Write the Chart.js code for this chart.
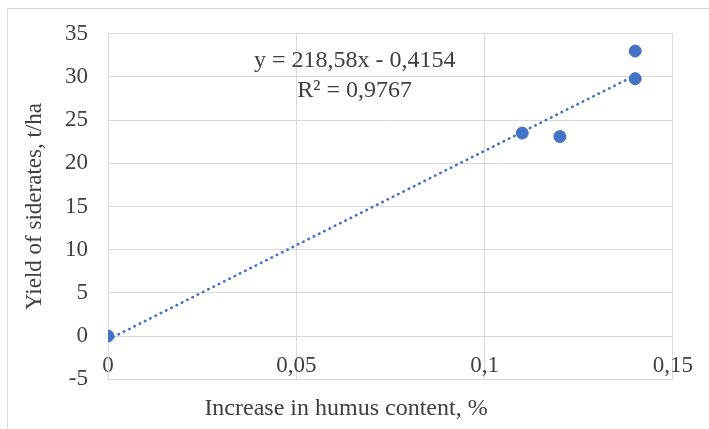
<!DOCTYPE html>
<html>
<head>
<meta charset="utf-8">
<script src="https://cdn.jsdelivr.net/npm/chart.js@4"></script>
<style>
  html, body { margin: 0; padding: 0; background: #fff; }
  #wrap { width: 709px; height: 429px; position: relative; }
</style>
</head>
<body>
<div id="wrap"><canvas id="chart" width="709" height="429"></canvas></div>
<script>
// data
let humusIncrease = [0, 0.11, 0.12, 0.14, 0.14];
let yieldValues   = [0, 23.5, 23.1, 33, 29.8];
// trendline as printed on the chart
let trendSlope     = 218.58;
let trendIntercept = -0.4154;
let equationLines  = ['y = 218,58x - 0,4154', 'R² = 0,9767'];

let blue = '#4472C4';
let gridColor = '#d9d9d9';
let textColor = '#404040';
let serif = "'Liberation Serif', 'Times New Roman', serif";

let xMin = Math.min.apply(null, humusIncrease);
let xMax = Math.max.apply(null, humusIncrease);
let trendPoints = [
  {x: xMin, y: trendSlope * xMin + trendIntercept},
  {x: xMax, y: trendSlope * xMax + trendIntercept}
];

let scatterPoints = humusIncrease.map((x, i) => ({x: x, y: yieldValues[i]}));

// outer frame + equation label
const extras = {
  id: 'extras',
  beforeDraw(chart) {
    const c = chart.ctx;
    c.save();
    c.fillStyle = '#fff';
    c.fillRect(0, 0, chart.width, chart.height);
    c.strokeStyle = gridColor;
    c.lineWidth = 1;
    c.strokeRect(7.5, 8.5, 740, 460);
    c.restore();
  },
  afterDraw(chart) {
    const c = chart.ctx;
    const xs = chart.scales.x, ys = chart.scales.y;
    c.save();
    c.font = '24px ' + serif;
    c.fillStyle = textColor;
    c.textAlign = 'center';
    c.textBaseline = 'middle';
    const cx = xs.getPixelForValue(0.0655);
    c.fillText(equationLines[0], cx, ys.getPixelForValue(31.9));
    c.fillText(equationLines[1], cx, ys.getPixelForValue(28.4));
    c.restore();
  }
};

const ctx = document.getElementById('chart').getContext('2d');
new Chart(ctx, {
  type: 'scatter',
  data: {
    datasets: [
      {
        label: 'Trend',
        type: 'line',
        data: trendPoints,
        borderColor: blue,
        borderWidth: 2.6,
        borderDash: [0.5, 5.4],
        borderCapStyle: 'round',
        pointRadius: 0,
        fill: false,
        order: 0
      },
      {
        label: 'Yield',
        data: scatterPoints,
        backgroundColor: blue,
        borderColor: blue,
        pointRadius: 6,
        order: 1
      }
    ]
  },
  options: {
    responsive: false,
    animation: false,
    layout: { padding: { left: 16, right: 33, top: 29, bottom: 0 } },
    plugins: {
      legend: { display: false },
      tooltip: { enabled: false },
      title: {
        display: true,
        position: 'bottom',
        text: 'Increase in humus content, %',
        color: textColor,
        font: { family: serif, size: 24, weight: 'normal' },
        padding: { top: 15, bottom: 6 }
      }
    },
    scales: {
      x: {
        type: 'linear',
        position: { y: 0 },
        min: 0,
        max: 0.15,
        afterFit(scale) { scale.height = 0; },
        ticks: {
          stepSize: 0.05,
          color: textColor,
          padding: 16,
          font: { family: serif, size: 23 },
          callback: v => String(Math.round(v * 100) / 100).replace('.', ',')
        },
        grid: { color: gridColor, drawTicks: false, lineWidth: 1 },
        border: { color: gridColor }
      },
      y: {
        min: -5,
        max: 35,
        afterFit(scale) { scale.width = 92; },
        ticks: {
          stepSize: 5,
          color: textColor,
          padding: 20,
          font: { family: serif, size: 23 }
        },
        grid: { color: gridColor, drawTicks: false, lineWidth: 1 },
        border: { color: gridColor },
        title: {
          display: true,
          text: 'Yield of siderates, t/ha',
          color: textColor,
          font: { family: serif, size: 23, weight: 'normal' },
          padding: { top: 5, bottom: 0 }
        }
      }
    }
  },
  plugins: [extras]
});
</script>
</body>
</html>
